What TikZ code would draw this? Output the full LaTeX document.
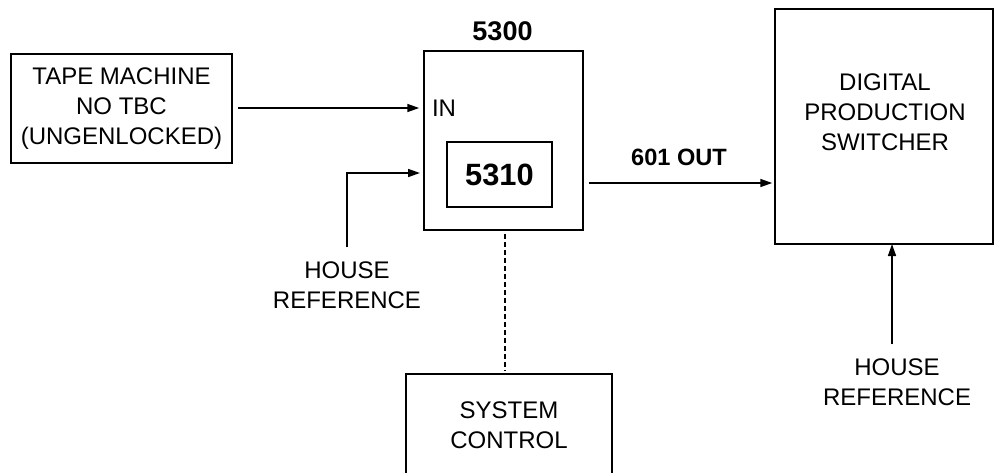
\documentclass[tikz,border=0pt]{standalone}
\usepackage{fontspec}
\setmainfont{Liberation Sans}
\usetikzlibrary{arrows.meta}
\begin{document}
\begin{tikzpicture}[x=0.5pt,y=-0.5pt,>={Triangle[length=6pt,width=4pt]},line width=0.75pt,
  every node/.style={font=\fontsize{12}{15}\selectfont},
  box/.style={draw,align=center,inner sep=0pt},
  href/.style={align=center,inner sep=7pt}]
\useasboundingbox (0,0) rectangle (994,472);
\clip (0,0) rectangle (994,472);

\node[box,minimum width=110.5pt,minimum height=54.5pt](tape) at (121.5,108.5){TAPE MACHINE\\NO TBC\\(UNGENLOCKED)};
\node[box,minimum width=79.5pt,minimum height=89.5pt](u5300) at (503.5,140.5){};
\node[font=\fontsize{13.5}{15}\bfseries](t5300) at (502.5,31){5300};
\node[inner sep=0pt](in) at (444,108){IN};
\node[box,minimum width=52.5pt,minimum height=32.5pt,font=\fontsize{15.4}{18}\bfseries](u5310) at (499.5,174.5){5310};

\node[box,minimum width=109pt,minimum height=117.5pt](dps) at (884,126.5){};
\node[align=center](dpstext) at (885,112){DIGITAL\\PRODUCTION\\SWITCHER};

\node[box,minimum width=103pt,minimum height=51pt](sys) at (509,425){SYSTEM\\CONTROL};

\node[href](href1) at (347,285.5){HOUSE\\REFERENCE};
\node[href](href2) at (897,382.5){HOUSE\\REFERENCE};

\coordinate (refin) at (424,173);
\coordinate (refdps) at (892,244);

\draw[->,shorten <=2.5pt,shorten >=2pt](tape.east |- in)--(u5300.west |- in);
\draw[->,shorten >=2pt](href1.north)|-(refin);
\draw[->,shorten <=2.5pt,shorten >=1pt](u5300.east |- 0,183)--(dps.west |- 0,183)
  node[midway,above=5pt,font=\fontsize{11.8}{15}\bfseries]{601 OUT};
\draw[->](refdps |- href2.north)--(refdps);
\draw[dash pattern=on 2.5pt off 1.5pt,shorten <=1.5pt,shorten >=1pt](u5300.south -| 505,0)--(sys.north -| 505,0);

\end{tikzpicture}
\end{document}
